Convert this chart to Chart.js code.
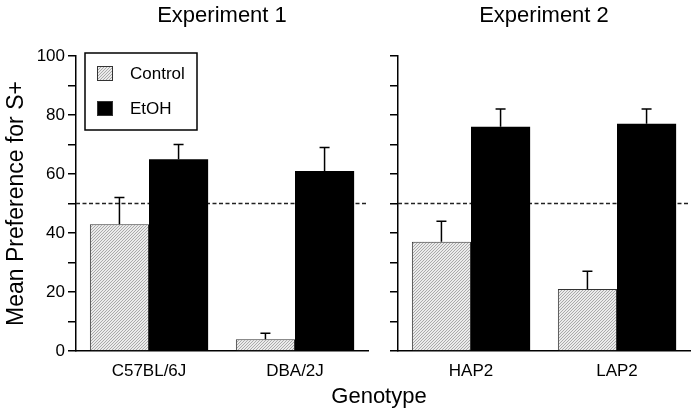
<!DOCTYPE html>
<html>
<head>
<meta charset="utf-8">
<script src="https://cdn.jsdelivr.net/npm/chart.js@4/dist/chart.umd.min.js"></script>
<style>
    body { margin: 0; background: #fff; }
    #figure { position: relative; width: 699px; height: 414px; overflow: hidden; background: #fff; }
    #figure canvas { position: absolute; top: 0; }
    #leftChart { left: 0; }
    #rightChart { left: 372px; }
    #xTitle {
        position: absolute; left: 379px; top: 383px; transform: translateX(-50%);
        font: 22px "Liberation Sans", Arial, sans-serif; line-height: 26px; color: #000; white-space: nowrap;
    }
</style>
</head>
<body>
<div id="figure">
    <canvas id="leftChart" width="372" height="414"></canvas>
    <canvas id="rightChart" width="327" height="414"></canvas>
    <div id="xTitle">Genotype</div>
</div>
<script>
// Values
const exp1Genotypes = ['C57BL/6J', 'DBA/2J'];
const exp1Control = [43, 4];
const exp1ControlSem = [9, 2];
const exp1Etoh = [65, 61];
const exp1EtohSem = [5, 8];

const exp2Genotypes = ['HAP2', 'LAP2'];
const exp2Control = [37, 21];
const exp2ControlSem = [7, 6];
const exp2Etoh = [76, 77];
const exp2EtohSem = [6, 5];

const chanceLevel = 50;
const yTicks = { min: 0, max: 100, step: 10, labelEvery: 20 };

Chart.defaults.font.family = '"Liberation Sans", Arial, sans-serif';
Chart.defaults.color = '#000';

// Fine hatched fill for the control bars
function makeHatch() {
    const c = document.createElement('canvas');
    c.width = 3;
    c.height = 3;
    const g = c.getContext('2d');
    g.fillStyle = '#ebebeb';
    g.fillRect(0, 0, 3, 3);
    g.strokeStyle = '#a3a3a3';
    g.lineWidth = 0.9;
    g.beginPath();
    g.moveTo(0, 3); g.lineTo(3, 0);
    g.moveTo(-1, 1); g.lineTo(1, -1);
    g.moveTo(2, 4); g.lineTo(4, 2);
    g.stroke();
    return g.createPattern(c, 'repeat');
}
const hatch = makeHatch();

// Upper SEM whiskers
const errorBars = {
    id: 'errorBars',
    afterDatasetsDraw(chart) {
        const ctx = chart.ctx;
        const yScale = chart.scales.y;
        ctx.save();
        ctx.strokeStyle = '#000';
        ctx.lineWidth = 1.5;
        chart.data.datasets.forEach((ds, di) => {
            const meta = chart.getDatasetMeta(di);
            meta.data.forEach((bar, i) => {
                const top = yScale.getPixelForValue(ds.data[i] + ds.sem[i]);
                ctx.beginPath();
                ctx.moveTo(bar.x, bar.y);
                ctx.lineTo(bar.x, top);
                ctx.moveTo(bar.x - 5, top);
                ctx.lineTo(bar.x + 5, top);
                ctx.stroke();
            });
        });
        ctx.restore();
    }
};

// Dashed chance line behind the bars
const chanceLine = {
    id: 'chanceLine',
    beforeDatasetsDraw(chart) {
        const { ctx, chartArea } = chart;
        const y = chart.scales.y.getPixelForValue(chanceLevel);
        ctx.save();
        ctx.strokeStyle = '#222';
        ctx.lineWidth = 1.3;
        ctx.setLineDash([4, 2.5]);
        ctx.beginPath();
        ctx.moveTo(chartArea.left, y);
        ctx.lineTo(chartArea.right, y);
        ctx.stroke();
        ctx.restore();
    }
};

// Panel heading centred over the plot area
const panelTitle = {
    id: 'panelTitle',
    afterDraw(chart, args, opts) {
        const { ctx, chartArea } = chart;
        ctx.save();
        ctx.font = '22px "Liberation Sans", Arial, sans-serif';
        ctx.fillStyle = '#000';
        ctx.textAlign = 'center';
        ctx.textBaseline = 'middle';
        ctx.fillText(opts.text, (chartArea.left + chartArea.right) / 2, 16);
        ctx.restore();
    }
};

// Boxed legend in the first panel
const boxLegend = {
    id: 'boxLegend',
    afterDraw(chart, args, opts) {
        if (!opts.show) return;
        const ctx = chart.ctx;
        ctx.save();
        ctx.strokeStyle = '#000';
        ctx.lineWidth = 1.5;
        ctx.strokeRect(85, 53, 112, 77);
        ctx.font = '17px "Liberation Sans", Arial, sans-serif';
        ctx.textBaseline = 'middle';
        chart.data.datasets.forEach((ds, i) => {
            const y = 66 + i * 35;
            ctx.fillStyle = ds.backgroundColor;
            ctx.fillRect(97, y, 16, 15);
            ctx.lineWidth = 1;
            ctx.strokeStyle = '#333';
            ctx.strokeRect(97.5, y + 0.5, 15, 14);
            ctx.fillStyle = '#000';
            ctx.fillText(ds.label, 130, y + 8);
        });
        ctx.restore();
    }
};

function buildPanel(canvasId, title, genotypes, control, controlSem, etoh, etohSem, isFirst) {
    const ctx = document.getElementById(canvasId).getContext('2d');
    return new Chart(ctx, {
        type: 'bar',
        data: {
            labels: genotypes,
            datasets: [
                {
                    label: 'Control',
                    data: control,
                    sem: controlSem,
                    backgroundColor: hatch,
                    borderColor: '#333',
                    borderWidth: 1
                },
                {
                    label: 'EtOH',
                    data: etoh,
                    sem: etohSem,
                    backgroundColor: '#000',
                    borderColor: '#000',
                    borderWidth: 0
                }
            ]
        },
        options: {
            responsive: false,
            animation: false,
            devicePixelRatio: 1,
            layout: { padding: { top: 56, right: isFirst ? 4 : 9, bottom: 0, left: 0 } },
            datasets: { bar: { barPercentage: 1, categoryPercentage: 0.81 } },
            plugins: {
                legend: { display: false },
                tooltip: { enabled: false },
                panelTitle: { text: title },
                boxLegend: { show: isFirst }
            },
            scales: {
                x: {
                    grid: { display: false, drawTicks: false },
                    border: { display: true, color: '#000', width: 1.5 },
                    ticks: { padding: 10, font: { size: 17 }, color: '#000' },
                    afterFit(scale) { scale.height = 63; }
                },
                y: {
                    min: yTicks.min,
                    max: yTicks.max,
                    grid: { drawOnChartArea: false, drawTicks: true, tickLength: 8, color: '#000', lineWidth: 1.5 },
                    border: { display: true, color: '#000', width: 1.5 },
                    ticks: {
                        stepSize: yTicks.step,
                        padding: 3,
                        font: { size: 17 },
                        color: '#000',
                        callback: v => (isFirst && v % yTicks.labelEvery === 0) ? v : ''
                    },
                    title: {
                        display: isFirst,
                        text: 'Mean Preference for S+',
                        font: { size: 23 },
                        color: '#000',
                        padding: { top: 3, bottom: 0 }
                    },
                    afterFit(scale) { scale.width = isFirst ? 76 : 26; }
                }
            }
        },
        plugins: [chanceLine, errorBars, panelTitle, boxLegend]
    });
}

buildPanel('leftChart', 'Experiment 1', exp1Genotypes, exp1Control, exp1ControlSem, exp1Etoh, exp1EtohSem, true);
buildPanel('rightChart', 'Experiment 2', exp2Genotypes, exp2Control, exp2ControlSem, exp2Etoh, exp2EtohSem, false);
</script>
</body>
</html>
